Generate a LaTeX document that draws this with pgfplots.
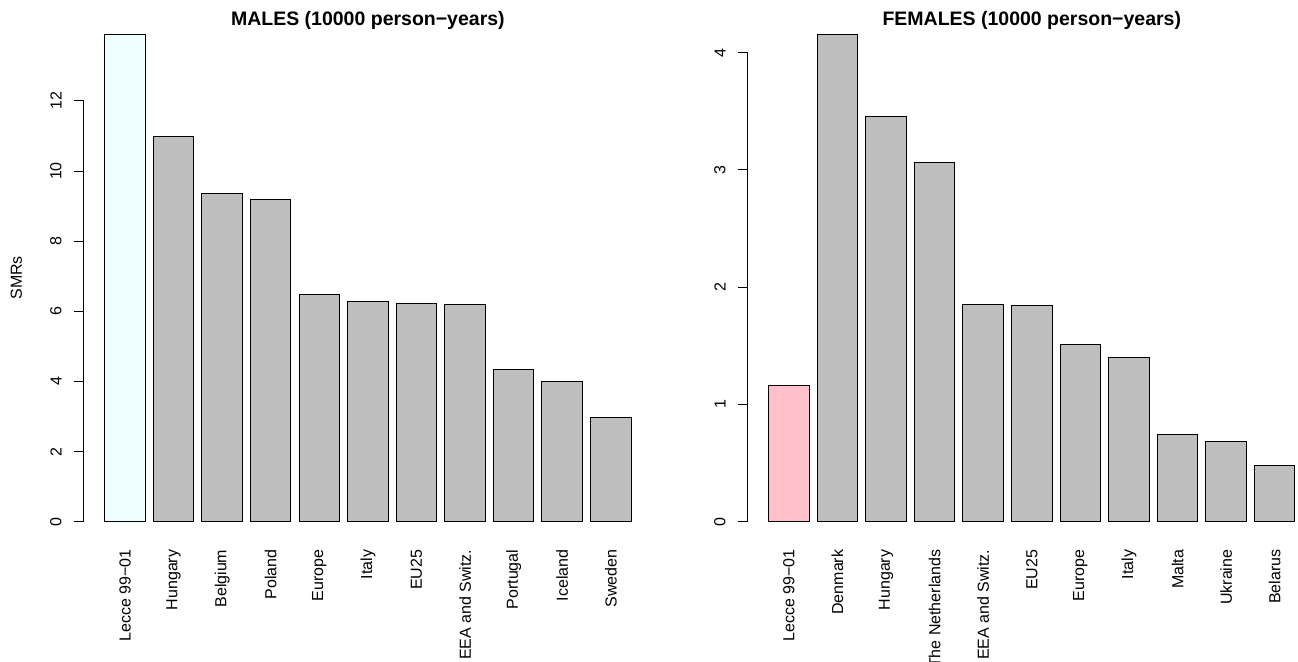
\documentclass[border=0pt]{standalone}
\usepackage{fontspec}
\setmainfont{Liberation Sans}
\usepackage{pgfplots}
\pgfplotsset{compat=1.18}
\definecolor{rgrey}{HTML}{BEBEBE}
\definecolor{razure}{HTML}{F0FFFF}
\definecolor{rpink}{HTML}{FFC0CB}
\pgfplotsset{
  rbar/.style={
    scale only axis,
    width=284.2pt, height=263.35pt,
    xmin=-0.32, xmax=13.72,
    axis line style={draw=none},
    tick align=outside,
    major tick length=4.85pt,
    ytick pos=left,
    xtick style={draw=none},
    ytick style={black, line width=0.5pt},
    xtick={0.7,1.9,3.1,4.3,5.5,6.7,7.9,9.1,10.3,11.5,12.7},
    /pgf/number format/assume math mode=true,
    tick label style={font=\fontsize{8}{9.6}\selectfont},
    yticklabel style={rotate=90, anchor=south, inner sep=0pt, yshift=6pt},
    xticklabel style={rotate=90, anchor=east, inner sep=0pt, xshift=0.8pt},
    title style={at={(axis description cs:0.5,0.979)}, anchor=base, inner sep=0pt, yshift=-6pt,
      font=\bfseries\fontsize{9.75}{11}\selectfont},
    clip=false,
  },
}
\begin{document}
\begin{tikzpicture}
\path[use as bounding box] (0,0) rectangle (649pt,330.5pt);
% MALES
\begin{axis}[rbar,
  at={(41.85pt,59.9pt)}, anchor=south west,
  ymin=-0.5564, ymax=14.4664,
  ytick={0,2,4,6,8,10,12},
  xticklabels={Lecce 99−01,Hungary,Belgium,Poland,Europe,Italy,EU25,EEA and Switz.,Portugal,Iceland,Sweden},
  title={MALES (10000 person−years)},
  ylabel={SMRs},
  ylabel style={at={(axis description cs:-0.1186,0.5)}, anchor=center, font=\fontsize{8}{9.6}\selectfont},
]
\addplot[ybar, bar width=1, fill=razure, draw=black, line width=0.5pt] coordinates {(0.7,13.91)};
\addplot[ybar, bar width=1, fill=rgrey, draw=black, line width=0.5pt] coordinates {
(1.9,10.99) (3.1,9.37) (4.3,9.19) (5.5,6.47) (6.7,6.29) (7.9,6.23) (9.1,6.19) (10.3,4.33) (11.5,4.00) (12.7,2.97)};
\draw[line width=0.5pt] (axis cs:-0.32,0) -- (axis cs:-0.32,12);
\end{axis}
% FEMALES
\begin{axis}[rbar,
  at={(373.8pt,59.9pt)}, anchor=south west,
  ymin=-0.1664, ymax=4.3264,
  ytick={0,1,2,3,4},
  xticklabels={Lecce 99−01,Denmark,Hungary,The Netherlands,EEA and Switz.,EU25,Europe,Italy,Malta,Ukraine,Belarus},
  title={FEMALES (10000 person−years)},
]
\addplot[ybar, bar width=1, fill=rpink, draw=black, line width=0.5pt] coordinates {(0.7,1.16)};
\addplot[ybar, bar width=1, fill=rgrey, draw=black, line width=0.5pt] coordinates {
(1.9,4.16) (3.1,3.46) (4.3,3.06) (5.5,1.85) (6.7,1.84) (7.9,1.51) (9.1,1.40) (10.3,0.74) (11.5,0.68) (12.7,0.48)};
\draw[line width=0.5pt] (axis cs:-0.32,0) -- (axis cs:-0.32,4);
\end{axis}
\end{tikzpicture}
\end{document}
